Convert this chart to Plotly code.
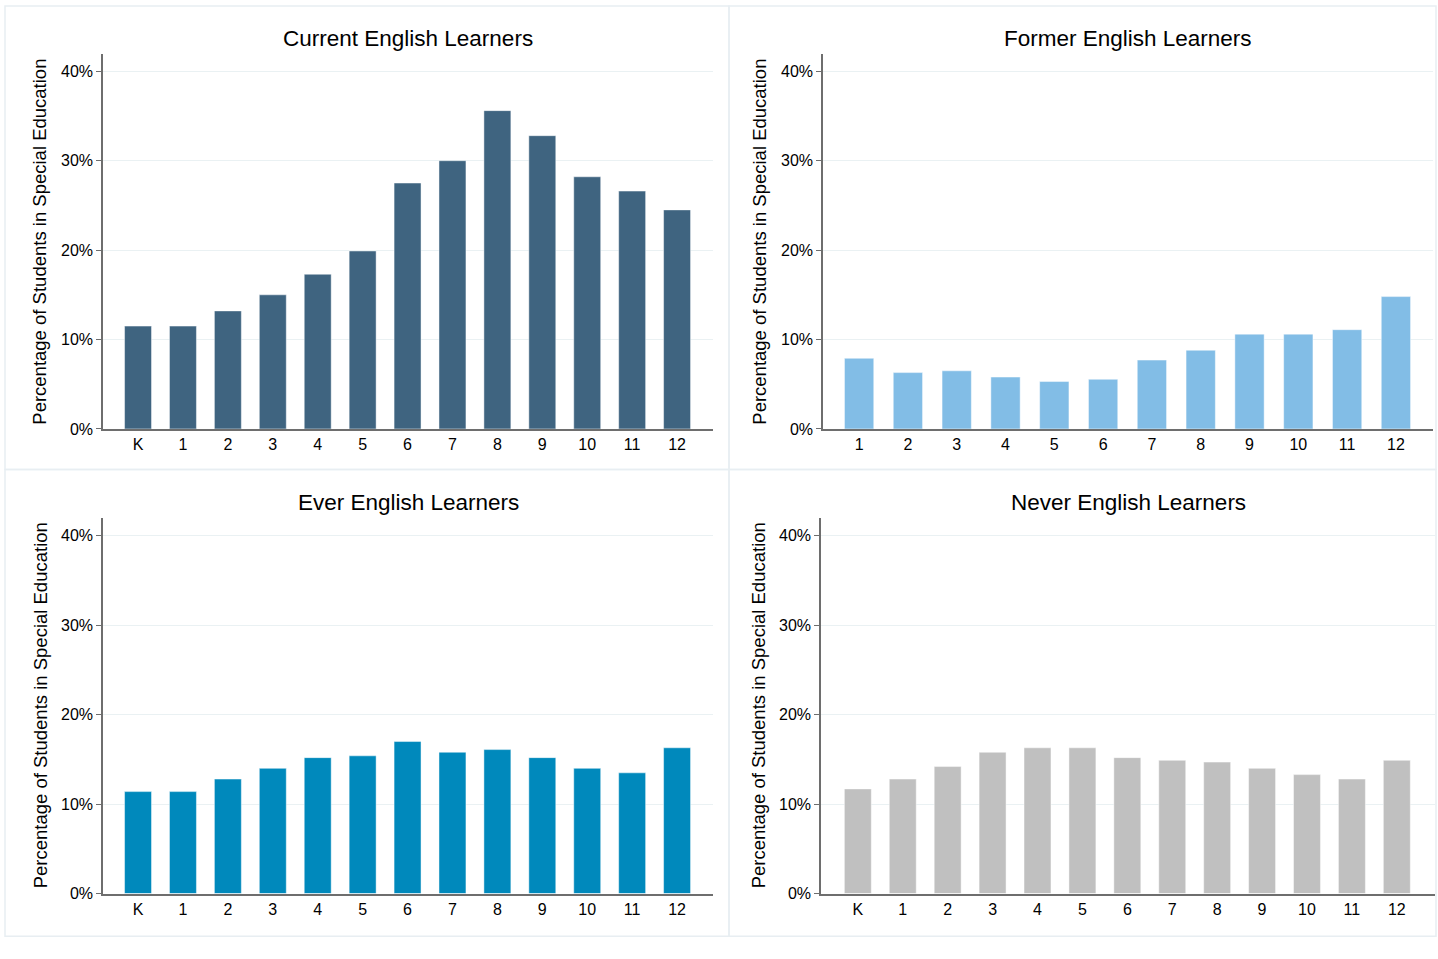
import plotly.graph_objects as go

# Grade labels
grades_k12 = ["K", "1", "2", "3", "4", "5", "6", "7", "8", "9", "10", "11", "12"]
grades_1_12 = ["1", "2", "3", "4", "5", "6", "7", "8", "9", "10", "11", "12"]

# Percentage of students in special education, by grade
current_el = [11.5, 11.5, 13.2, 15.0, 17.3, 19.9, 27.5, 30.0, 35.6, 32.8, 28.2, 26.6, 24.5]
former_el = [7.9, 6.3, 6.5, 5.8, 5.3, 5.55, 7.7, 8.8, 10.6, 10.6, 11.1, 14.8]
ever_el = [11.4, 11.4, 12.8, 14.0, 15.2, 15.4, 17.0, 15.8, 16.1, 15.2, 14.0, 13.5, 16.3]
never_el = [11.7, 12.8, 14.2, 15.8, 16.3, 16.3, 15.2, 14.9, 14.7, 14.0, 13.3, 12.8, 14.9]

panel_titles = ["Current English Learners", "Former English Learners",
                "Ever English Learners", "Never English Learners"]
y_title = "Percentage of Students in Special Education"
y_ticks = [0, 10, 20, 30, 40]
y_tick_text = ["0%", "10%", "20%", "30%", "40%"]

W, H = 1438, 959
FONT = "Liberation Sans, Arial, Helvetica, sans-serif"
INK = "#000000"


def xd(a, b):
    return [a / W, b / W]


def yd(top, bottom):
    return [1 - bottom / H, 1 - top / H]


# (categories, values, colour, x pixel span, y pixel span, x range, y max)
panels = [
    (grades_k12, current_el, "#3f6480", (103, 713), (55, 433), [-0.78, 12.8], 41.88),
    (grades_1_12, former_el, "#82bde6", (823, 1433), (55, 433), [-0.74, 11.76], 41.88),
    (grades_k12, ever_el, "#0089bc", (103, 713), (523, 902), [-0.78, 12.8], 41.99),
    (grades_k12, never_el, "#c0c0c0", (821, 1435), (523, 902), [-0.82, 12.85], 41.99),
]

fig = go.Figure()
layout = dict(
    width=W, height=H,
    margin=dict(l=0, r=0, t=0, b=0),
    paper_bgcolor="white", plot_bgcolor="white",
    showlegend=False,
    font=dict(family=FONT, color=INK),
)
annotations = []

for i, (cats, vals, color, xs, ys, xr, ymax) in enumerate(panels, start=1):
    xa = "x" if i == 1 else f"x{i}"
    ya = "y" if i == 1 else f"y{i}"
    fig.add_trace(go.Bar(
        x=cats, y=vals, xaxis=xa, yaxis=ya,
        marker=dict(color=color, line=dict(color="rgba(255,255,255,0.45)", width=1)),
        width=0.6,
    ))
    layout[f"xaxis{'' if i == 1 else i}"] = dict(
        domain=xd(*xs), anchor=ya, type="category", categoryorder="array",
        categoryarray=cats, range=xr, showgrid=False, zeroline=False,
        showline=True, linecolor="#6e6e6e", linewidth=2, ticks="",
        tickfont=dict(size=16, color=INK), fixedrange=True,
    )
    layout[f"yaxis{'' if i == 1 else i}"] = dict(
        domain=yd(*ys), anchor=xa, range=[0, ymax],
        tickvals=y_ticks, ticktext=y_tick_text,
        showgrid=True, gridcolor="#eaf1f3", gridwidth=1, zeroline=False,
        showline=True, linecolor="#6e6e6e", linewidth=1.5,
        ticks="outside", ticklen=5, tickcolor="#6e6e6e", tickwidth=1,
        tickfont=dict(size=16, color=INK), fixedrange=True,
    )
    # panel title
    annotations.append(dict(
        text=panel_titles[i - 1], xref="paper", yref="paper",
        x=(xs[0] + xs[1]) / 2 / W, y=1 - (ys[0] - 16) / H,
        xanchor="center", yanchor="middle", showarrow=False,
        font=dict(size=22.5, color=INK, family=FONT),
    ))
    # y-axis title
    annotations.append(dict(
        text=y_title, xref="paper", yref="paper",
        x=(xs[0] - 63) / W, y=1 - (ys[0] + 189) / H,
        xanchor="center", yanchor="middle", textangle=-90, showarrow=False,
        font=dict(size=18.5, color=INK, family=FONT),
    ))

# light frames around each panel
frame = "#e8eef2"
shapes = []
for (x0, x1) in [(5, 729), (729, 1436)]:
    for (y0, y1) in [(6, 474), (474, 945)]:
        shapes.append(dict(
            type="rect", xref="paper", yref="paper",
            x0=x0 / W, x1=x1 / W, y0=1 - y1 / H, y1=1 - y0 / H,
            line=dict(color=frame, width=1.5), layer="below",
        ))

layout["annotations"] = annotations
layout["shapes"] = shapes
fig.update_layout(**layout)
fig.write_html("out.html")
